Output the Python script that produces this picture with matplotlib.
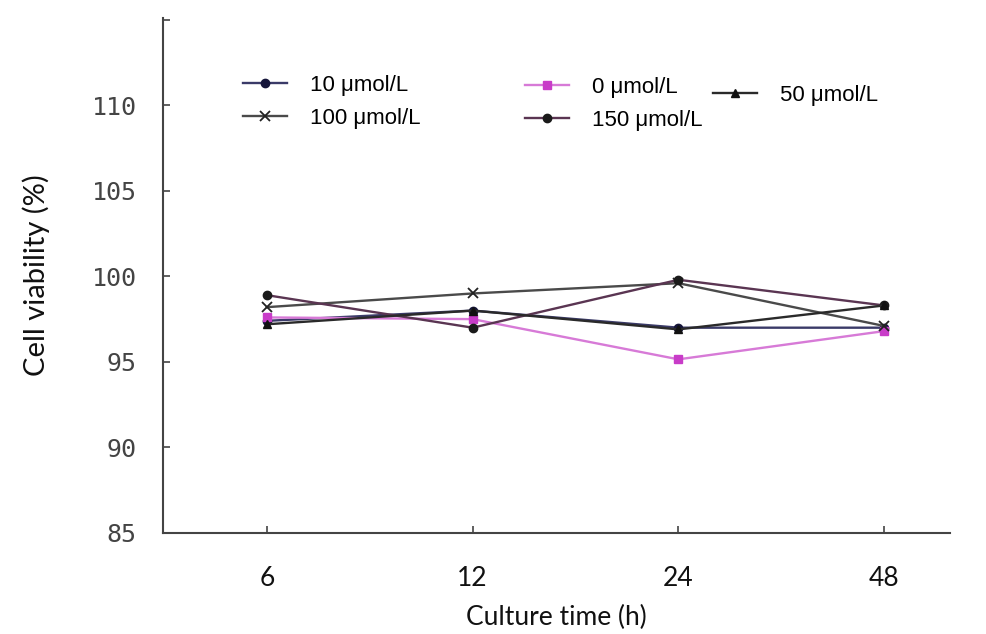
import matplotlib
matplotlib.use("Agg")
import matplotlib.pyplot as plt

# ---- data ----
time_labels = ["6", "12", "24", "48"]
v_10 = [97.4, 98.0, 97.0, 97.0]
v_0 = [97.6, 97.5, 95.15, 96.8]
v_100 = [98.2, 99.0, 99.6, 97.1]
v_150 = [98.9, 97.0, 99.8, 98.3]
v_50 = [97.2, 98.0, 96.9, 98.3]
y_ticks = [85, 90, 95, 100, 105, 110, 115]
y_ticklabels = ["85", "90", "95", "100", "105", "110", ""]

W, H = 987, 634
fig = plt.figure(figsize=(W / 100, H / 100), dpi=100)
ax = fig.add_axes([163 / W, 1 - 533 / H, (950 - 163) / W, (533 - 18) / H])

x = list(range(len(time_labels)))

styles = {
    "10": dict(color="#3a3a68", marker="o", mfc="#15153a", mec="#15153a", ms=6),
    "0": dict(color="#d77ad7", marker="s", mfc="#c83cc8", mec="#c83cc8", ms=6),
    "100": dict(color="#4a4a4a", marker="x", mfc="#222222", mec="#222222", ms=7, mew=1.3),
    "150": dict(color="#5a3552", marker="o", mfc="#1a1a1a", mec="#1a1a1a", ms=6),
    "50": dict(color="#2a2a2a", marker="^", mfc="#111111", mec="#111111", ms=6),
}

series = [("10", v_10), ("0", v_0), ("100", v_100), ("150", v_150), ("50", v_50)]
handles = {}
for key, vals in series:
    st = styles[key]
    (ln,) = ax.plot(x, vals, lw=1.7, label=key + " \u03bcmol/L", **st)
    handles[key] = ln

ax.set_xlim(-0.505, 3.32)
ax.set_ylim(85, 115.1)
ax.set_xticks(x)
ax.set_xticklabels(time_labels, fontsize=19, family="Lato", color="#111111")
ax.set_yticks(y_ticks)
ax.set_yticklabels(y_ticklabels, fontsize=18, family="DejaVu Sans Mono", color="#444444")
ax.tick_params(axis="y", direction="in", length=5, width=1.2, color="#444444", pad=19)
ax.tick_params(axis="x", direction="in", length=5, width=1.2, color="#444444", pad=24)

for s in ["top", "right"]:
    ax.spines[s].set_visible(False)
for s in ["left", "bottom"]:
    ax.spines[s].set_color("#444444")
    ax.spines[s].set_linewidth(1.5)

ax.set_xlabel("Culture time (h)", fontsize=19, family="Lato", color="#111111", labelpad=10)
ax.set_ylabel("Cell viability (%)", fontsize=21, family="Lato", color="#111111", labelpad=30)

leg_kw = dict(frameon=False, handlelength=2.0, handletextpad=1.0,
              borderpad=0, borderaxespad=0, labelspacing=0.55,
              prop={"family": ["Liberation Sans", "DejaVu Sans"], "size": 16})
l1 = fig.legend([handles["10"], handles["100"]], ["10 \u03bcmol/L", "100 \u03bcmol/L"],
                loc="upper left", bbox_to_anchor=(243 / W, 1 - 75 / H), **leg_kw)
l2 = fig.legend([handles["0"], handles["150"]], ["0 \u03bcmol/L", "150 \u03bcmol/L"],
                loc="upper left", bbox_to_anchor=(525 / W, 1 - 77 / H), **leg_kw)
l3 = fig.legend([handles["50"]], ["50 \u03bcmol/L"],
                loc="upper left", bbox_to_anchor=(713 / W, 1 - 85 / H), **leg_kw)

fig.savefig("out.png", dpi=100, facecolor="white")
